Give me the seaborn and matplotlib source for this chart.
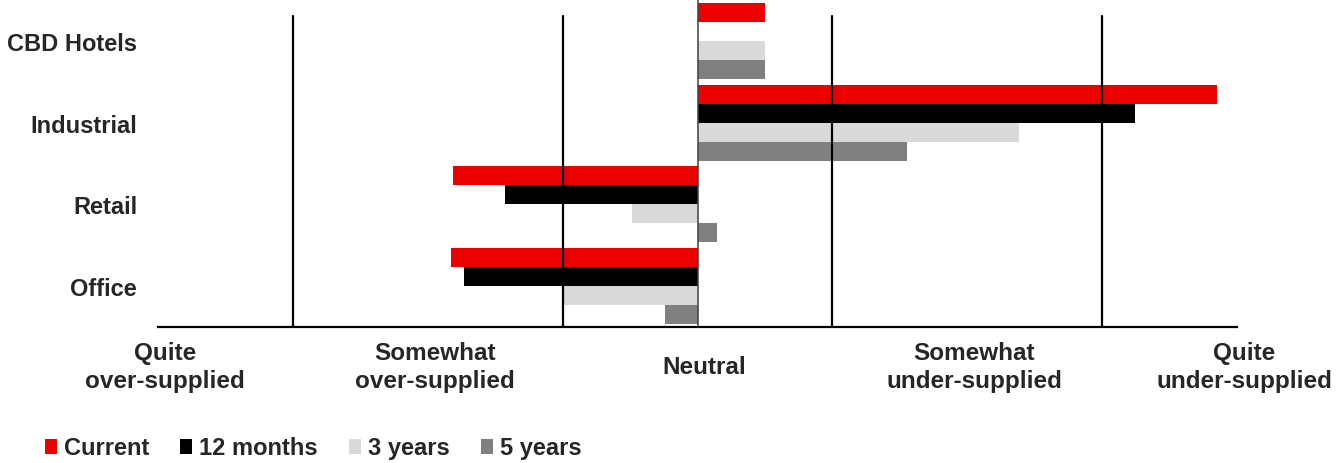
import matplotlib
matplotlib.use("Agg")
import matplotlib.pyplot as plt
import matplotlib.transforms as mtransforms
import pandas as pd
import seaborn as sns

# Sectors (top to bottom) and outlook horizons
sectors = ["CBD Hotels", "Industrial", "Retail", "Office"]
horizons = ["Current", "12 months", "3 years", "5 years"]

# Average supply balance score per horizon (-2 = quite over-supplied, +2 = quite under-supplied)
current = [0.25, 1.925, -0.905, -0.915]
months_12 = [0.0, 1.622, -0.714, -0.866]
years_3 = [0.25, 1.193, -0.244, -0.495]
years_5 = [0.25, 0.778, 0.071, -0.120]

# Scale tick positions and labels
scale_ticks = [-2, -1, 0, 1, 2]
scale_labels = ["Quite\nover-supplied", "Somewhat\nover-supplied", "Neutral",
                "Somewhat\nunder-supplied", "Quite\nunder-supplied"]
grid_positions = [-1.5, -0.5, 0.5, 1.5]

colors = ["#EC0000", "#000000", "#D9D9D9", "#808080"]

sns.set_theme(style="white")
plt.rcParams["font.family"] = ["Liberation Sans", "DejaVu Sans"]
plt.rcParams["font.weight"] = "bold"

df = pd.DataFrame({
    "sector": sectors * 4,
    "horizon": [h for h in horizons for _ in sectors],
    "score": current + months_12 + years_3 + years_5,
})

W, H = 1339, 464
fig = plt.figure(figsize=(W / 100, H / 100), dpi=100)
ax = fig.add_axes([158 / W, 1 - 328 / H, (1237 - 158) / W, 327 / H])

sns.barplot(data=df, y="sector", x="score", hue="horizon", order=sectors,
            hue_order=horizons, palette=colors, orient="h", width=0.93,
            saturation=1, linewidth=0, ax=ax, legend=True)

ax.set_xlim(-2, 2)
ax.set_xlabel("")
ax.set_ylabel("")

# Vertical dividers between scale bands, drawn over the bars
for g in grid_positions:
    ax.axvline(g, ymin=0, ymax=(328 - 17) / 327, color="black", lw=1.6, zorder=5)
ax.axvline(0, color="#404040", lw=1.1, zorder=5)

for side in ["top", "right", "left"]:
    ax.spines[side].set_visible(False)
ax.spines["bottom"].set_color("black")
ax.spines["bottom"].set_linewidth(1.6)
ax.spines["bottom"].set_zorder(6)

ax.set_xticks(scale_ticks)
ax.set_xticklabels(scale_labels, fontsize=17.5, fontweight="bold", linespacing=1.32)
ax.tick_params(axis="x", length=0, pad=28.5)
shift = mtransforms.ScaledTranslation(7 / 100, 0, fig.dpi_scale_trans)
for lab in ax.get_xticklabels():
    lab.set_va("center")
    lab.set_ha("center")
    lab.set_multialignment("center")
    lab.set_transform(lab.get_transform() + shift)

ax.tick_params(axis="y", length=0, pad=15, labelsize=17)
for lab in ax.get_yticklabels():
    lab.set_fontweight("bold")

handles, labels = ax.get_legend_handles_labels()
ax.get_legend().remove()
fig.legend(handles, labels, loc="center left", bbox_to_anchor=(45 / W, 1 - 449 / H),
           ncol=4, frameon=False, handlelength=0.5, handleheight=0.6,
           handletextpad=0.3, columnspacing=1.32, borderpad=0, borderaxespad=0,
           prop={"weight": "bold", "size": 17})

fig.savefig("out.png", dpi=100)
